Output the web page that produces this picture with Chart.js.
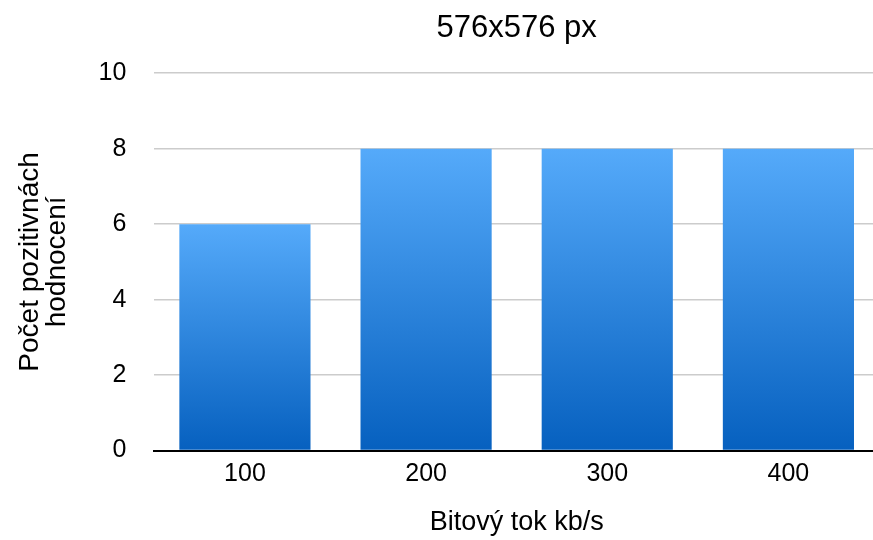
<!DOCTYPE html>
<html>
<head>
<meta charset="utf-8">
<script src="https://cdn.jsdelivr.net/npm/chart.js@4"></script>
<style>
  html, body { margin: 0; padding: 0; background: #fff; overflow: hidden; }
  #wrap { width: 873px; height: 540px; overflow: hidden; }
</style>
</head>
<body>
<!-- plot runs a few px past the right edge, like the original -->
<div id="wrap"><canvas id="myChart" width="879" height="540"></canvas></div>
<script>
const categories = ['100', '200', '300', '400'];
const values = [6, 8, 8, 8];
const yTicks = [0, 2, 4, 6, 8, 10];

const font = 'Liberation Sans, Arial, Helvetica, sans-serif';

window.addEventListener('DOMContentLoaded', () => {
  const ctx = document.getElementById('myChart').getContext('2d');

  // each bar gets its own top-to-bottom gradient
  const barGradient = (context) => {
    const chart = context.chart;
    const y = chart.scales && chart.scales.y;
    if (!y || context.raw == null) return '#3a8ee6';
    const top = y.getPixelForValue(context.raw);
    const bottom = y.getPixelForValue(0);
    if (!isFinite(top) || !isFinite(bottom) || top === bottom) return '#3a8ee6';
    const g = chart.ctx.createLinearGradient(0, top, 0, bottom);
    g.addColorStop(0, '#55aafa');
    g.addColorStop(1, '#0660bf');
    return g;
  };

  const config = {
    type: 'bar',
    data: {
      labels: categories,
      datasets: [{
        data: values,
        backgroundColor: barGradient,
        borderWidth: 0,
        barPercentage: 0.724,
        categoryPercentage: 1.0
      }]
    },
    options: {
      responsive: false,
      animation: false,
      layout: { padding: { left: 2, right: 0, top: 0, bottom: 1 } },
      plugins: {
        legend: { display: false },
        tooltip: { enabled: false },
        title: {
          display: true,
          fullSize: false,
          text: '576x576 px',
          color: '#000',
          font: { family: font, size: 31, weight: 'normal', lineHeight: 1.2 },
          padding: { top: 10, bottom: 26 }
        }
      },
      scales: {
        x: {
          grid: { display: false, drawTicks: false },
          border: { display: true, color: '#000', width: 2 },
          ticks: { color: '#000', font: { family: font, size: 25 }, padding: 9 },
          title: {
            display: true,
            text: 'Bitový tok kb/s',
            color: '#000',
            font: { family: font, size: 27, lineHeight: 1.2 },
            padding: { top: 8, bottom: 0 }
          }
        },
        y: {
          min: 0,
          max: 10,
          afterBuildTicks: (axis) => { axis.ticks = yTicks.map(v => ({ value: v })); },
          grid: { color: '#cccccc', lineWidth: 1.5, drawTicks: false },
          border: { display: false },
          ticks: { color: '#000', font: { family: font, size: 25 }, padding: 28 },
          title: {
            display: true,
            text: ['Počet pozitivnách', 'hodnocení'],
            color: '#000',
            font: { family: font, size: 28, lineHeight: 0.965 },
            padding: { top: 14.5, bottom: 0 }
          }
        }
      }
    }
  };

  const myChart = new Chart(ctx, config);
});
</script>
</body>
</html>
